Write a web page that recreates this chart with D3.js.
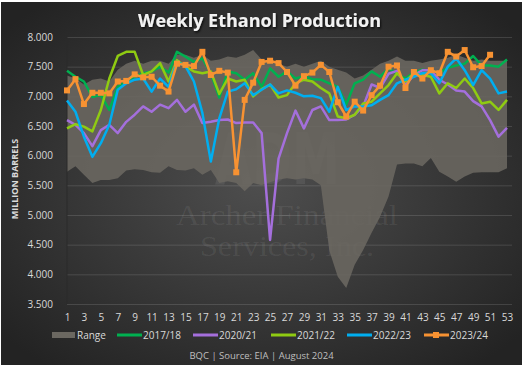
<!DOCTYPE html>
<html>
<head>
<meta charset="utf-8">
<script src="https://cdn.jsdelivr.net/npm/d3@7"></script>
<style>
  body { margin: 0; background: #fff; }
  svg { display: block; font-family: "Open Sans", sans-serif; }
</style>
</head>
<body>
<div id="vis"></div>
<script>
// weekly ethanol production, million barrels per day (marketing-year weeks)
var weeks = d3.range(1, 54);
var xTickLabels = weeks.filter(w => w % 2 === 1);
var yTicks = [3.5, 4.0, 4.5, 5.0, 5.5, 6.0, 6.5, 7.0, 7.5, 8.0];

var rangeHigh = [7.35,7.30,7.20,7.28,7.30,7.25,7.45,7.55,7.60,7.55,7.60,7.60,7.55,7.70,7.70,7.65,7.70,7.60,7.62,7.67,
                 7.65,7.70,7.78,7.62,7.60,7.55,7.50,7.55,7.50,7.55,7.60,7.50,7.45,7.40,7.30,7.35,7.45,7.55,7.60,7.67,
                 7.60,7.60,7.56,7.60,7.62,7.65,7.70,7.65,7.60,7.62,7.60,7.60,7.60];
var rangeLow = [5.73,5.82,5.68,5.54,5.59,5.59,5.62,5.75,5.77,5.76,5.72,5.71,5.82,5.76,5.75,5.79,5.68,5.76,5.54,5.57,
                5.54,5.40,5.54,5.50,5.55,5.60,5.62,5.60,5.62,5.60,5.50,4.40,3.96,3.77,4.16,4.41,4.70,4.97,5.31,5.85,
                5.87,5.87,5.82,5.96,5.73,5.65,5.56,5.65,5.71,5.72,5.72,5.72,5.79];

var y2017 = [7.43,7.33,7.25,6.99,7.02,6.77,7.16,7.25,7.33,7.39,7.42,7.50,7.40,7.75,7.67,7.58,7.64,7.39,6.98,7.42,
             7.39,7.28,7.39,7.16,7.47,7.33,7.42,7.30,7.34,7.29,7.28,7.22,7.16,6.86,7.22,7.28,7.42,7.33,7.47,7.38,
             7.30,7.40,7.45,7.42,7.40,7.48,7.52,7.55,7.68,7.52,7.52,7.50,7.62];
var y2020 = [6.60,6.52,6.38,6.16,6.43,6.52,6.38,6.57,6.69,6.83,6.74,6.86,6.80,6.94,6.74,6.86,6.55,6.57,6.60,6.61,
             6.55,6.56,6.56,6.38,4.58,5.95,6.38,6.76,6.46,6.77,6.83,6.60,6.60,6.61,6.69,6.83,7.20,7.14,7.38,7.43,
             7.19,7.36,7.44,7.44,7.28,7.20,7.10,7.08,6.92,6.83,6.60,6.32,6.47];
var y2021 = [6.46,6.53,6.49,6.41,6.77,7.30,7.68,7.75,7.75,7.36,7.42,7.56,7.25,7.61,7.50,7.42,7.39,7.42,7.04,7.30,
             7.25,7.28,7.00,7.12,7.20,6.98,7.02,7.22,7.28,7.25,7.14,7.05,6.66,6.63,6.69,6.88,6.91,7.05,7.19,7.39,
             7.25,7.39,7.36,7.33,7.05,7.22,7.14,7.30,7.14,6.88,6.91,6.77,6.94];
var y2022 = [6.93,6.74,6.32,5.98,6.21,6.52,7.11,7.22,7.28,7.30,7.08,7.30,7.16,7.58,7.51,7.25,6.72,5.90,6.63,7.08,
             7.12,7.22,7.02,7.11,7.20,7.05,7.10,7.06,7.00,7.01,6.97,6.74,7.16,6.77,6.83,6.83,6.85,6.94,7.02,7.22,
             7.28,7.33,7.39,7.39,7.22,7.50,7.64,7.44,7.19,7.44,7.30,7.05,7.08];
var y2023 = [7.10,7.29,6.87,7.06,7.06,7.05,7.25,7.26,7.37,7.32,7.33,7.18,7.08,7.55,7.53,7.51,7.75,7.36,7.43,7.40,
             5.72,6.94,7.23,7.58,7.60,7.56,7.41,7.18,7.34,7.40,7.53,7.41,6.90,6.66,6.91,6.76,7.02,7.18,7.50,7.52,
             7.14,7.41,7.30,7.44,7.39,7.75,7.67,7.78,7.49,7.51,7.70];

var seriesNames = ['2017/18', '2020/21', '2021/22', '2022/23', '2023/24'];
var seriesValues = [y2017, y2020, y2021, y2022, y2023];
var seriesColors = ['#00b050', '#a46fdc', '#8fcb12', '#00aef0', '#f79232'];
var rangeColor = '#6b6861';

var width = 528;
var height = 368;

var svg = d3.select('#vis').append('svg')
    .attr('width', width)
    .attr('height', height);

var defs = svg.append('defs');
var grad = defs.append('radialGradient')
    .attr('id', 'bg')
    .attr('cx', '50%').attr('cy', '50%').attr('r', '65%');
grad.append('stop').attr('offset', '0%').attr('stop-color', '#4e4e4e');
grad.append('stop').attr('offset', '100%').attr('stop-color', '#232323');

var shadow = defs.append('filter').attr('id', 'shadow')
    .attr('x', '-10%').attr('y', '-30%').attr('width', '120%').attr('height', '160%');
shadow.append('feDropShadow')
    .attr('dx', 1).attr('dy', 1.5).attr('stdDeviation', 1.2)
    .attr('flood-color', '#000').attr('flood-opacity', 0.8);

// chart background
svg.append('rect')
    .attr('x', 1).attr('y', 2)
    .attr('width', 521).attr('height', 363)
    .attr('fill', 'url(#bg)');

var x = d3.scalePoint().domain(weeks).range([67, 507]);
var y = d3.scaleLinear().domain([3.5, 8]).range([304, 37]);

// gridlines
svg.append('g')
    .attr('transform', 'translate(67,0)')
    .call(d3.axisLeft(y).tickValues(yTicks).tickSize(-445).tickFormat(''))
    .call(g => g.select('.domain').remove())
    .call(g => g.selectAll('line').attr('stroke', '#ffffff').attr('stroke-opacity', 0.13));

// watermark
var wm = svg.append('g').attr('fill', '#ffffff').attr('fill-opacity', 0.07);
var logo = wm.append('text')
    .attr('transform', 'translate(215,184) scale(1,1.5)')
    .style('font-family', '"DejaVu Sans", sans-serif')
    .style('font-weight', 'bold')
    .style('font-size', '48px');
logo.append('tspan').text('ADM');
logo.append('tspan')
    .attr('dx', 3).attr('dy', -24)
    .style('font-size', '6px')
    .style('font-weight', 'normal')
    .text('®');
wm.append('text')
    .attr('x', 176).attr('y', 225)
    .attr('textLength', 222).attr('lengthAdjust', 'spacingAndGlyphs')
    .style('font-family', '"Liberation Serif", serif')
    .style('font-size', '29px')
    .text('Archer Financial');
wm.append('text')
    .attr('x', 200).attr('y', 256)
    .attr('textLength', 174).attr('lengthAdjust', 'spacingAndGlyphs')
    .style('font-family', '"Liberation Serif", serif')
    .style('font-size', '29px')
    .text('Services, Inc.');

// range band
var area = d3.area()
    .x((d, i) => x(weeks[i]))
    .y0((d, i) => y(rangeLow[i]))
    .y1(d => y(d));

svg.append('path')
    .datum(rangeHigh)
    .attr('d', area)
    .attr('fill', rangeColor)
    .attr('fill-opacity', 0.88);

// y axis line
svg.append('line')
    .attr('x1', 67).attr('x2', 67)
    .attr('y1', y(8)).attr('y2', y(3.5))
    .attr('stroke', '#2a2a2a').attr('stroke-width', 1);

// series lines
var line = d3.line()
    .defined(d => d != null)
    .x((d, i) => x(weeks[i]))
    .y(d => y(d));

seriesValues.forEach((vals, k) => {
    svg.append('path')
        .datum(vals)
        .attr('d', line)
        .attr('fill', 'none')
        .attr('stroke', seriesColors[k])
        .attr('stroke-width', 2.5)
        .attr('stroke-linejoin', 'round');
});

// markers for current year
svg.append('g').selectAll('rect')
    .data(y2023)
    .join('rect')
    .attr('x', (d, i) => x(weeks[i]) - 3)
    .attr('y', d => y(d) - 3)
    .attr('width', 6).attr('height', 6)
    .attr('fill', seriesColors[4]);

// axes labels
var yAxis = svg.append('g')
    .attr('transform', 'translate(67,0)')
    .call(d3.axisLeft(y).tickValues(yTicks).tickFormat(d3.format('.3f')).tickSize(0).tickPadding(14))
    .call(g => g.select('.domain').remove());
yAxis.selectAll('text')
    .attr('fill', '#d9d9d9')
    .style('font-size', '10px')
    .style('font-family', '"Open Sans", sans-serif');

var xAxis = svg.append('g')
    .attr('transform', 'translate(0,304)')
    .call(d3.axisBottom(x).tickValues(xTickLabels).tickSize(0).tickPadding(10))
    .call(g => g.select('.domain').remove());
xAxis.selectAll('text')
    .attr('fill', '#d9d9d9')
    .style('font-size', '10px')
    .style('font-family', '"Open Sans", sans-serif');

// title
svg.append('text')
    .attr('x', 259.5).attr('y', 27)
    .attr('text-anchor', 'middle')
    .attr('textLength', 243).attr('lengthAdjust', 'spacing')
    .attr('fill', '#f2f2f2')
    .attr('filter', 'url(#shadow)')
    .style('font-size', '18px')
    .style('font-weight', 'bold')
    .text('Weekly Ethanol Production');

svg.append('text')
    .attr('transform', 'translate(18,179) rotate(-90)')
    .attr('text-anchor', 'middle')
    .attr('fill', '#d9d9d9')
    .style('font-size', '9px')
    .style('font-weight', 'bold')
    .text('MILLION BARRELS');

// legend
var legend = svg.append('g').style('font-size', '10px').attr('fill', '#d9d9d9');
legend.append('rect')
    .attr('x', 52).attr('y', 332).attr('width', 23).attr('height', 6)
    .attr('fill', rangeColor);
legend.append('text').attr('x', 77).attr('y', 338.5).text('Range');

var legendX = [117, 193, 271, 347, 424];
seriesNames.forEach((name, k) => {
    legend.append('line')
        .attr('x1', legendX[k]).attr('x2', legendX[k] + 25)
        .attr('y1', 335).attr('y2', 335)
        .attr('stroke', seriesColors[k]).attr('stroke-width', 3);
    legend.append('text')
        .attr('x', legendX[k] + 26).attr('y', 338.5)
        .text(name);
});
legend.append('rect')
    .attr('x', 433).attr('y', 332).attr('width', 6).attr('height', 6)
    .attr('fill', seriesColors[4]);

// footer
svg.append('text')
    .attr('x', 261.5).attr('y', 358.5)
    .attr('text-anchor', 'middle')
    .attr('fill', '#bfbfbf')
    .style('font-size', '9.5px')
    .text('BQC | Source: EIA | August 2024');
</script>
</body>
</html>
